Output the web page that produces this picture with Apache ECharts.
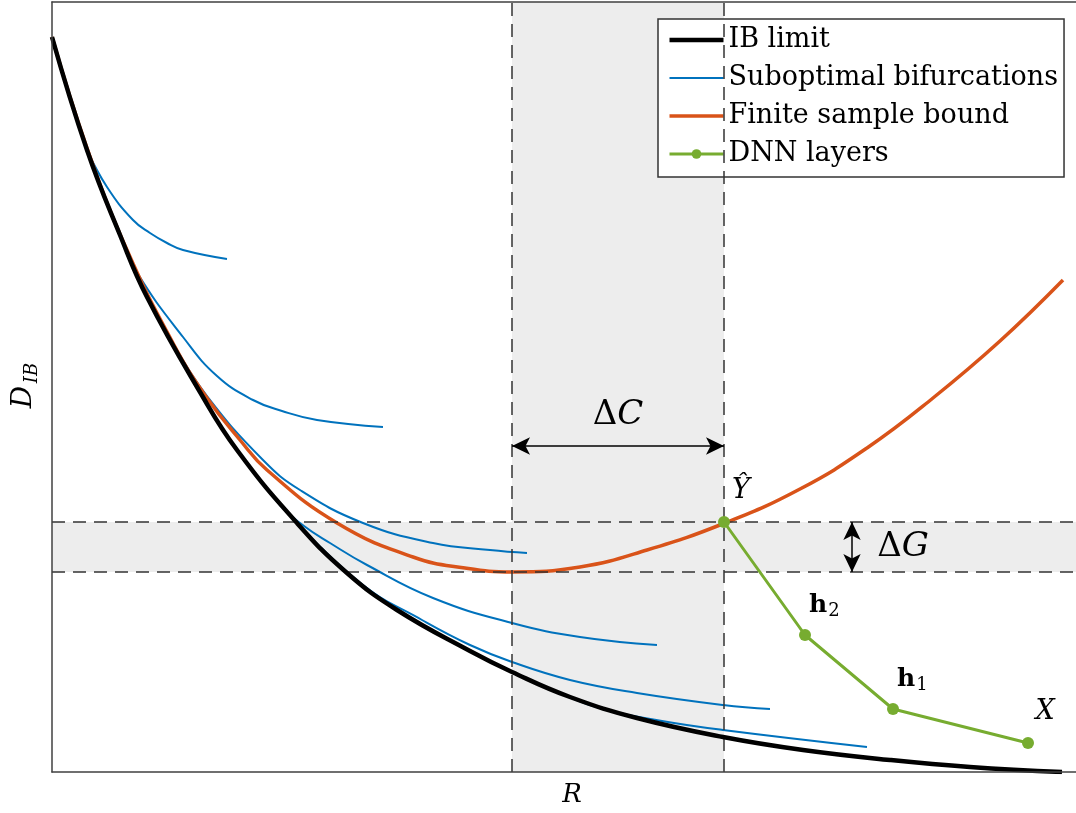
<!DOCTYPE html>
<html>
<head>
<meta charset="utf-8">
<title>IB limit and DNN layers</title>
<script src="https://cdn.jsdelivr.net/npm/echarts@6/dist/echarts.min.js"></script>
<style>
  html, body { margin: 0; padding: 0; background: #fff; }
  #chart { width: 1076px; height: 813px; }
</style>
</head>
<body>
<div id="chart"></div>
<script>
// values (R along x, D_IB along y, arbitrary units)
const ibLimit = [
  [0, 7.35], [0.35, 6.22], [0.68, 5.37], [0.95, 4.75], [1.48, 3.80], [1.85, 3.22],
  [2.45, 2.49], [2.95, 1.99], [3.45, 1.62], [4.18, 1.21], [4.60, 1.00], [5.18, 0.75],
  [5.85, 0.54], [6.71, 0.35], [7.51, 0.22], [8.38, 0.12], [9.18, 0.05], [10.10, 0.00],
];
const finiteBound = [
  [0, 7.35], [0.35, 6.24], [0.75, 5.22], [1.22, 4.27], [1.55, 3.74], [1.88, 3.32],
  [2.15, 3.02], [2.85, 2.49], [3.61, 2.15], [4.13, 2.04], [4.60, 2.00], [5.28, 2.05],
  [5.95, 2.22], [6.73, 2.49], [7.48, 2.83], [8.15, 3.24], [8.81, 3.74], [9.48, 4.31],
  [10.11, 4.92],
];
const bifurcation1 = [[0.35, 6.22], [0.55, 5.85], [0.81, 5.52], [0.98, 5.39], [1.15, 5.29], [1.31, 5.22], [1.75, 5.13]];
const bifurcation2 = [[0.68, 5.37], [0.86, 4.98], [1.31, 4.35], [1.65, 3.96], [2.01, 3.72], [2.30, 3.61], [2.65, 3.52], [3.31, 3.45]];
const bifurcation3 = [[1.22, 4.27], [1.55, 3.76], [2.11, 3.12], [2.48, 2.82], [3.11, 2.49], [3.81, 2.29], [4.38, 2.22], [4.75, 2.19]];
const bifurcation4 = [[1.72, 3.40], [2.28, 2.67], [2.52, 2.46], [2.78, 2.29], [3.15, 2.07], [3.81, 1.74], [4.60, 1.49], [5.28, 1.35], [6.05, 1.27]];
const bifurcation5 = [[2.45, 2.49], [3.11, 1.87], [3.70, 1.52], [4.18, 1.27], [4.60, 1.10], [5.18, 0.92], [5.85, 0.79], [6.71, 0.67], [7.18, 0.63]];
const bifurcation6 = [[4.60, 1.00], [5.05, 0.80], [5.51, 0.63], [6.10, 0.51], [6.71, 0.42], [8.15, 0.25]];
const bifurcations = [bifurcation1, bifurcation2, bifurcation3, bifurcation4, bifurcation5, bifurcation6];

const dnnLayers = [[6.72, 2.50], [7.53, 1.37], [8.41, 0.63], [9.76, 0.29]];
const dnnLabels = [["Ŷ", ""], ["h", "2"], ["h", "1"], ["X", ""]];

const gapC = [4.60, 6.72]; // vertical band, ΔC
const gapG = [2.00, 2.50]; // horizontal band, ΔG
const arrowCy = 3.26;
const arrowGx = 8.00;

const serif = "DejaVu Serif";
const colors = { ib: "#000000", sub: "#0072BD", bound: "#D95319", dnn: "#77AC30", axis: "#404040", band: "#ededed" };

// flat bar icons (the M-only points pin the icon box to 54x12)
const barIcon = (w) => `path://M0,0 M54,12 M0,${6 - w / 2} L54,${6 - w / 2} L54,${6 + w / 2} L0,${6 + w / 2} Z`;
const legendItems = [
  { name: "IB limit", icon: barIcon(4.5) },
  { name: "Suboptimal bifurcations", icon: barIcon(2) },
  { name: "Finite sample bound", icon: barIcon(3.5) },
  { name: "DNN layers", lineStyle: { width: 3 } },
];

const chart = echarts.init(document.getElementById("chart"), null, { renderer: "canvas" });

const hiddenAxis = {
  axisTick: { show: false },
  axisLabel: { show: false },
  splitLine: { show: false },
  axisLine: { show: true, lineStyle: { color: colors.axis, width: 1.5 } },
  z: 10,
};

const series = [
  {
    name: "bands",
    type: "line",
    data: [],
    z: 1,
    silent: true,
    markArea: {
      silent: true,
      itemStyle: { color: colors.band },
      data: [
        [{ xAxis: gapC[0] }, { xAxis: gapC[1] }],
        [{ yAxis: gapG[0] }, { yAxis: gapG[1] }],
      ],
    },
    markLine: {
      silent: true,
      symbol: "none",
      animation: false,
      label: { show: false },
      lineStyle: { color: "#333", width: 1.5, type: [13, 8] },
      data: [{ xAxis: gapC[0] }, { xAxis: gapC[1] }, { yAxis: gapG[0] }, { yAxis: gapG[1] }],
    },
  },
];

bifurcations.forEach((curve) => {
  series.push({
    name: "Suboptimal bifurcations",
    type: "line",
    data: curve,
    smooth: 0.45,
    symbol: "none",
    z: 3,
    lineStyle: { color: colors.sub, width: 2 },
    itemStyle: { color: colors.sub },
  });
});

series.push(
  {
    name: "Finite sample bound",
    type: "line",
    data: finiteBound,
    smooth: 0.45,
    symbol: "none",
    z: 4,
    lineStyle: { color: colors.bound, width: 3.5 },
    itemStyle: { color: colors.bound },
  },
  {
    name: "IB limit",
    type: "line",
    data: ibLimit,
    smooth: 0.45,
    symbol: "none",
    z: 5,
    lineStyle: { color: colors.ib, width: 4.5 },
    itemStyle: { color: colors.ib },
  },
  {
    name: "DNN layers",
    type: "line",
    data: dnnLayers,
    symbol: "circle",
    symbolSize: 12,
    z: 6,
    lineStyle: { color: colors.dnn, width: 3 },
    itemStyle: { color: colors.dnn },
  },
  {
    name: "arrows",
    type: "line",
    data: [],
    z: 6,
    silent: true,
    markLine: {
      silent: true,
      animation: false,
      symbol: ["arrow", "arrow"],
      symbolSize: [13, 18],
      label: { show: false },
      lineStyle: { color: "#000", width: 1.5, type: "solid" },
      data: [
        [{ coord: [gapC[0], arrowCy] }, { coord: [gapC[1], arrowCy] }],
        [{ coord: [arrowGx, gapG[1]] }, { coord: [arrowGx, gapG[0]] }],
      ],
    },
  }
);

chart.setOption({
  animation: false,
  grid: { left: 52, top: 2, right: 0, bottom: 41 },
  xAxis: [
    { type: "value", min: 0, max: 10.24, ...hiddenAxis },
    { type: "value", min: 0, max: 10.24, position: "top", ...hiddenAxis },
  ],
  yAxis: { type: "value", min: 0, max: 7.7, ...hiddenAxis },
  legend: {
    data: legendItems,
    orient: "vertical",
    left: 658,
    top: 19,
    itemWidth: 54,
    itemHeight: 12,
    itemGap: 8,
    padding: [6, 6, 8, 10],
    backgroundColor: "#fff",
    borderColor: "#333",
    borderWidth: 1.5,
    borderRadius: 0,
    selectedMode: false,
    textStyle: { fontFamily: serif, fontSize: 27, color: "#000", lineHeight: 30 },
  },
  series,
});

// annotations anchored to data points
const px = (p) => chart.convertToPixel({ gridIndex: 0 }, p);
const text = (x, y, str, size, extra) => ({
  type: "text",
  x,
  y,
  z: 20,
  style: Object.assign(
    { text: str, fontFamily: serif, fontSize: size, fill: "#000", align: "center", verticalAlign: "middle" },
    extra || {}
  ),
});

const deltaRich = {
  a: { fontFamily: serif, fontSize: 34 },
  b: { fontFamily: serif, fontSize: 34, fontStyle: "italic" },
};

const graphic = [];
const cMid = px([(gapC[0] + gapC[1]) / 2, arrowCy]);
graphic.push(text(cMid[0], cMid[1] - 31, "{a|Δ}{b|C}", 34, { rich: deltaRich }));
const gMid = px([arrowGx, (gapG[0] + gapG[1]) / 2]);
graphic.push(text(gMid[0] + 51, gMid[1], "{a|Δ}{b|G}", 34, { rich: deltaRich }));

dnnLayers.forEach((p, i) => {
  const [x, y] = px(p);
  const [main, sub] = dnnLabels[i];
  if (sub) {
    graphic.push(text(x + 13, y - 30, main, 25, { fontWeight: "bold" }));
    graphic.push(text(x + 29, y - 24, sub, 18));
  } else {
    graphic.push(text(x + 17, y - 31, main, 27, { fontStyle: "italic" }));
  }
});

// axis names
const xName = px([5.2, 0]);
graphic.push(text(xName[0], xName[1] + 23, "R", 26, { fontStyle: "italic" }));
const yName = px([0, 3.85]);
graphic.push({
  type: "group",
  x: yName[0] - 24,
  y: yName[1],
  rotation: Math.PI / 2,
  z: 20,
  children: [
    text(-10, -4, "D", 28, { fontStyle: "italic" }),
    text(14, 4, "IB", 18, { fontStyle: "italic" }),
  ],
});

chart.setOption({ graphic });
</script>
</body>
</html>
